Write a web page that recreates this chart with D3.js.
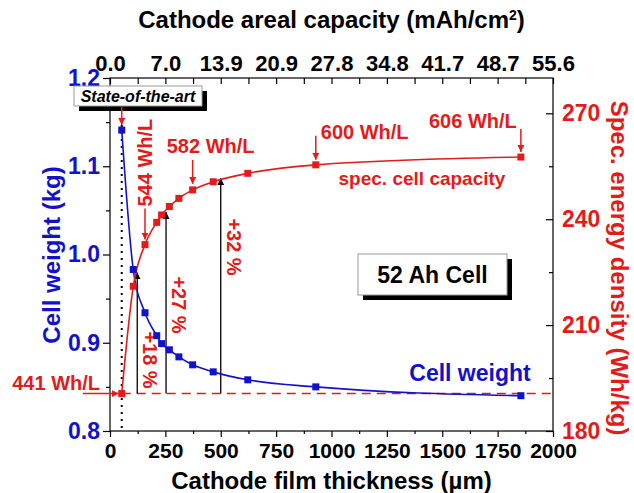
<!DOCTYPE html>
<html>
<head>
<meta charset="utf-8">
<script src="https://cdn.jsdelivr.net/npm/d3@7"></script>
<style>
  body { margin: 0; background: #fff; }
  text { font-family: "Liberation Sans", Arial, sans-serif; font-weight: bold; }
</style>
</head>
<body>
<div id="chart"></div>
<script>
// cathode film thickness (µm) of each cell design
var thickness = [53, 105, 158, 211, 233, 268, 311, 373, 466, 622, 929, 1855];
// cell weight (kg)
var weight = [1.141, 0.983, 0.934, 0.908, 0.899, 0.892, 0.884, 0.875, 0.867, 0.858, 0.850, 0.840];
// specific energy density (Wh/kg)
var energy = [190.6, 221.0, 232.8, 239.1, 241.2, 243.6, 245.9, 248.3, 250.6, 253.0, 255.4, 257.6];

var xTicks = [0, 250, 500, 750, 1000, 1250, 1500, 1750, 2000];
var xMinor = [125, 375, 625, 875, 1125, 1375, 1625, 1875];
var capLabels = ["0.0", "7.0", "13.9", "20.9", "27.8", "34.8", "41.7", "48.7", "55.6"];
var weightTicks = [0.8, 0.9, 1.0, 1.1, 1.2];
var weightMinor = [0.85, 0.95, 1.05, 1.15];
var energyTicks = [180, 210, 240, 270];
var energyMinor = [195, 225, 255];

// gain in spec. energy vs. state of the art
var gainThickness = [123, 253, 500];
var gainPct = [18, 27, 32];
// volumetric energy callouts (point index)
var callouts = [
  {label: "544 Wh/L", i: 2},
  {label: "582 Wh/L", i: 7},
  {label: "600 Wh/L", i: 10},
  {label: "606 Wh/L", i: 11}
];

var blue = "#1212cc", red = "#e31b1b";
var w = 634, h = 493,
    p = {top: 78, right: 81, bottom: 62, left: 110};

var svg = d3.select("#chart").append("svg")
  .attr("width", w)
  .attr("height", h);

var defs = svg.append("defs");
[["arrRed", red], ["arrBlack", "#000"]].forEach(function(m){
  defs.append("marker")
    .attr("id", m[0])
    .attr("viewBox", "0 0 10 10")
    .attr("refX", 10).attr("refY", 5)
    .attr("markerWidth", 7).attr("markerHeight", 7)
    .attr("markerUnits", "userSpaceOnUse")
    .attr("orient", "auto")
    .append("path")
      .attr("d", "M0,0 L10,5 L0,10 z")
      .attr("fill", m[1]);
});

var x = d3.scaleLinear().domain([0, 2000]).range([p.left, w - p.right]);
var y = d3.scaleLinear().domain([0.8, 1.2]).range([h - p.bottom, p.top]);
var yR = d3.scaleLinear().domain([180, 280]).range([h - p.bottom, p.top]);

// axes
function styleAxis(g, size, color){
  g.select(".domain").remove();
  g.selectAll("line").attr("stroke", "#000").attr("stroke-width", 1.2);
  g.selectAll("text").style("font-size", size + "px").attr("fill", color);
}

svg.append("g")
  .attr("transform", "translate(0," + (h - p.bottom) + ")")
  .call(d3.axisBottom(x).tickValues(xTicks).tickSize(6).tickPadding(6).tickFormat(d3.format("d")))
  .call(styleAxis, 21, "#000");
svg.append("g")
  .attr("transform", "translate(0," + (h - p.bottom) + ")")
  .call(d3.axisBottom(x).tickValues(xMinor).tickSize(3).tickFormat(""))
  .call(styleAxis, 21, "#000");

svg.append("g")
  .attr("transform", "translate(0," + p.top + ")")
  .call(d3.axisTop(x).tickValues(xTicks).tickSizeInner(-6).tickSizeOuter(0).tickPadding(7)
    .tickFormat(function(d, i){ return capLabels[i]; }))
  .call(styleAxis, 22, "#000");
svg.append("g")
  .attr("transform", "translate(0," + p.top + ")")
  .call(d3.axisTop(x).tickValues(xMinor).tickSizeInner(-6).tickSizeOuter(0).tickFormat(""))
  .call(styleAxis, 22, "#000");

svg.append("g")
  .attr("transform", "translate(" + p.left + ",0)")
  .call(d3.axisLeft(y).tickValues(weightTicks).tickSize(7).tickPadding(3).tickFormat(d3.format(".1f")))
  .call(styleAxis, 23, blue);
svg.append("g")
  .attr("transform", "translate(" + p.left + ",0)")
  .call(d3.axisLeft(y).tickValues(weightMinor).tickSize(4).tickFormat(""))
  .call(styleAxis, 23, blue);

svg.append("g")
  .attr("transform", "translate(" + (w - p.right) + ",0)")
  .call(d3.axisRight(yR).tickValues(energyTicks).tickSizeInner(-7).tickSizeOuter(0).tickPadding(9))
  .call(styleAxis, 23, red);
svg.append("g")
  .attr("transform", "translate(" + (w - p.right) + ",0)")
  .call(d3.axisRight(yR).tickValues(energyMinor).tickSizeInner(-4).tickSizeOuter(0).tickFormat(""))
  .call(styleAxis, 23, red);

svg.append("rect")
  .attr("x", p.left).attr("y", p.top)
  .attr("width", w - p.left - p.right)
  .attr("height", h - p.top - p.bottom)
  .attr("fill", "none")
  .attr("stroke", "#000")
  .attr("stroke-width", 1.2);

// axis titles
svg.append("text")
  .attr("x", (p.left + w - p.right) / 2).attr("y", 28)
  .attr("text-anchor", "middle")
  .style("font-size", "24px")
  .html("Cathode areal capacity (mAh/cm<tspan dy='-8' style='font-size:14px'>2</tspan><tspan dy='8'>)</tspan>");
svg.append("text")
  .attr("x", (p.left + w - p.right) / 2).attr("y", 489)
  .attr("text-anchor", "middle")
  .style("font-size", "24px")
  .text("Cathode film thickness (µm)");
svg.append("text")
  .attr("transform", "translate(60,255) rotate(-90)")
  .attr("text-anchor", "middle")
  .attr("fill", blue)
  .style("font-size", "24px")
  .text("Cell weight (kg)");
svg.append("text")
  .attr("transform", "translate(611,268) rotate(90)")
  .attr("text-anchor", "middle")
  .attr("fill", red)
  .style("font-size", "24px")
  .text("Spec. energy density (Wh/kg)");

// state-of-the-art dotted line
svg.append("line")
  .attr("x1", x(thickness[0])).attr("x2", x(thickness[0]))
  .attr("y1", 118).attr("y2", h - p.bottom)
  .attr("stroke", "#000")
  .attr("stroke-width", 2)
  .attr("stroke-dasharray", "2,5");

// baseline (441 Wh/L)
var base = energy[0];
svg.append("line")
  .attr("x1", x(thickness[0])).attr("x2", w - p.right)
  .attr("y1", yR(base)).attr("y2", yR(base))
  .attr("stroke", red)
  .attr("stroke-width", 1.5)
  .attr("stroke-dasharray", "9,6");
svg.append("line")
  .attr("x1", 83).attr("x2", x(thickness[0]) - 3)
  .attr("y1", yR(base)).attr("y2", yR(base))
  .attr("stroke", red).attr("stroke-width", 1.5)
  .attr("marker-end", "url(#arrRed)");
svg.append("text")
  .attr("x", 100).attr("y", yR(base) - 4)
  .attr("text-anchor", "end")
  .attr("fill", red)
  .style("font-size", "20px")
  .text("441 Wh/L");

// gain arrows
var gainLabelY = [360, 305, 247];
gainThickness.forEach(function(t, i){
  var top = base * (1 + gainPct[i] / 100);
  svg.append("line")
    .attr("x1", x(t)).attr("x2", x(t))
    .attr("y1", yR(base)).attr("y2", yR(top))
    .attr("stroke", "#000").attr("stroke-width", 1.3)
    .attr("marker-end", "url(#arrBlack)");
  svg.append("text")
    .attr("transform", "translate(" + (x(t) + 6) + "," + gainLabelY[i] + ") rotate(90)")
    .attr("text-anchor", "middle")
    .attr("fill", red)
    .style("font-size", "20px")
    .text("+" + gainPct[i] + " %");
});

// series
var rows = thickness.map(function(t, i){ return {t: t, w: weight[i], e: energy[i]}; });

var lineW = d3.line().curve(d3.curveMonotoneX)
  .x(function(d){ return x(d.t); }).y(function(d){ return y(d.w); });
var lineE = d3.line().curve(d3.curveMonotoneX)
  .x(function(d){ return x(d.t); }).y(function(d){ return yR(d.e); });

svg.append("path").datum(rows)
  .attr("d", lineW).attr("fill", "none")
  .attr("stroke", blue).attr("stroke-width", 1.6);
svg.append("path").datum(rows)
  .attr("d", lineE).attr("fill", "none")
  .attr("stroke", red).attr("stroke-width", 1.6);

var s = 7;
svg.selectAll(".sqW").data(rows).enter().append("rect")
  .attr("class", "sqW")
  .attr("x", function(d){ return x(d.t) - s / 2; })
  .attr("y", function(d){ return y(d.w) - s / 2; })
  .attr("width", s).attr("height", s)
  .attr("fill", blue);
svg.selectAll(".sqE").data(rows).enter().append("rect")
  .attr("class", "sqE")
  .attr("x", function(d){ return x(d.t) - s / 2; })
  .attr("y", function(d){ return yR(d.e) - s / 2; })
  .attr("width", s).attr("height", s)
  .attr("fill", red);

// callouts
function redArrow(px, y1, y2){
  svg.append("line")
    .attr("x1", px).attr("x2", px)
    .attr("y1", y1).attr("y2", y2)
    .attr("stroke", red).attr("stroke-width", 1.5)
    .attr("marker-end", "url(#arrRed)");
}
callouts.forEach(function(c){
  var px = x(thickness[c.i]), py = yR(energy[c.i]);
  if (c.i == 2) {
    redArrow(px, py - 36, py - 5);
    svg.append("text")
      .attr("transform", "translate(" + (px + 7) + "," + (py - 82) + ") rotate(-90)")
      .attr("text-anchor", "middle")
      .attr("fill", red).style("font-size", "20px")
      .text(c.label);
  } else if (c.i == 7) {
    redArrow(px, py - 30, py - 6);
    svg.append("text")
      .attr("x", px + 18).attr("y", py - 37)
      .attr("text-anchor", "middle")
      .attr("fill", red).style("font-size", "20px")
      .text(c.label);
  } else if (c.i == 10) {
    redArrow(px, py - 29, py - 5);
    svg.append("text")
      .attr("x", px + 5).attr("y", py - 26)
      .attr("fill", red).style("font-size", "20px")
      .text(c.label);
  } else {
    redArrow(px, py - 28, py - 5);
    svg.append("text")
      .attr("x", px - 48).attr("y", py - 29)
      .attr("text-anchor", "middle")
      .attr("fill", red).style("font-size", "20px")
      .text(c.label);
  }
});

svg.append("text")
  .attr("x", 422).attr("y", 185)
  .attr("text-anchor", "middle")
  .attr("fill", red).style("font-size", "19px")
  .text("spec. cell capacity");

svg.append("text")
  .attr("x", 470).attr("y", 381)
  .attr("text-anchor", "middle")
  .attr("fill", blue).style("font-size", "23px")
  .text("Cell weight");

// boxes
function box(bx, by, bw, bh, off, label, size, italic){
  svg.append("rect")
    .attr("x", bx + off).attr("y", by + off)
    .attr("width", bw).attr("height", bh)
    .attr("fill", "#000");
  svg.append("rect")
    .attr("x", bx).attr("y", by)
    .attr("width", bw).attr("height", bh)
    .attr("fill", "#fff").attr("stroke", "#999").attr("stroke-width", 1);
  svg.append("text")
    .attr("x", bx + bw / 2).attr("y", by + bh / 2)
    .attr("dy", "0.36em")
    .attr("text-anchor", "middle")
    .style("font-size", size + "px")
    .style("font-style", italic ? "italic" : "normal")
    .text(label);
}
box(74, 86, 128, 20, 5, "State-of-the-art", 16, true);
box(358, 254, 149, 41, 5, "52 Ah Cell", 23, false);

redArrow(x(thickness[0]), 107, y(weight[0]) - 5);
</script>
</body>
</html>
